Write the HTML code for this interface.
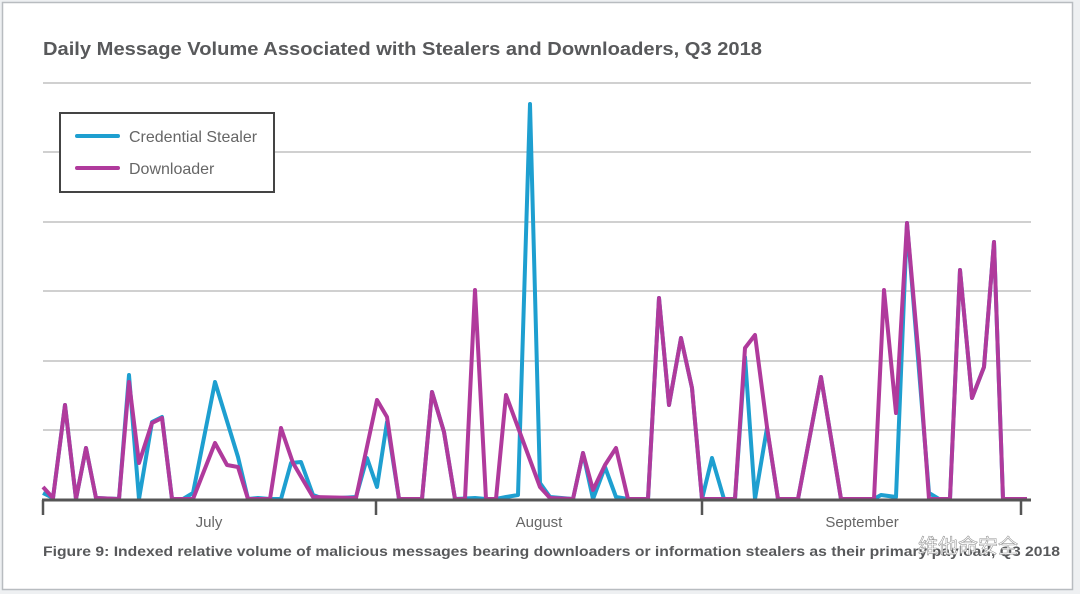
<!DOCTYPE html>
<html><head><meta charset="utf-8"><style>
html,body{margin:0;padding:0;background:#eef0f2;}
svg{display:block;}
</style></head><body>
<svg width="1080" height="594" xmlns="http://www.w3.org/2000/svg" font-family="Liberation Sans, Noto Sans CJK SC, sans-serif">
<rect x="2.5" y="2.5" width="1070" height="587" fill="#ffffff" stroke="#b8bcc0" stroke-width="1.5"/>
<text x="43" y="55" font-size="18" font-weight="bold" fill="#58595b" textLength="719" lengthAdjust="spacingAndGlyphs">Daily Message Volume Associated with Stealers and Downloaders, Q3 2018</text>
<g stroke="#b5b5b5" stroke-width="1.2">
<line x1="43" y1="83" x2="1031" y2="83"/>
<line x1="43" y1="152" x2="1031" y2="152"/>
<line x1="43" y1="222" x2="1031" y2="222"/>
<line x1="43" y1="291" x2="1031" y2="291"/>
<line x1="43" y1="361" x2="1031" y2="361"/>
<line x1="43" y1="430" x2="1031" y2="430"/>
</g>
<rect x="60" y="113" width="214" height="79" fill="#fff" stroke="#444" stroke-width="2"/>
<line x1="77" y1="136" x2="118" y2="136" stroke="#1e9fd0" stroke-width="4" stroke-linecap="round"/>
<line x1="77" y1="168" x2="118" y2="168" stroke="#b03a9c" stroke-width="4" stroke-linecap="round"/>
<text x="129" y="142" font-size="16" fill="#666">Credential Stealer</text>
<text x="129" y="174" font-size="16" fill="#666">Downloader</text>
<polyline fill="none" stroke="#1e9fd0" stroke-width="4" stroke-linejoin="round" points="43,493 53,498 65,405 76,499 86,448 96,498 119,499 129,375 139,499 152,422 162,417 172,499 183,499 193,493 215,382 238,457 248,499 258,498 270,499 281,499 291,463 301,462 313,495 324,499 356,497 367,458 377,487 387,422 399,499 422,499 432,392 444,432 455,499 475,498 486,499 496,499 506,497 518,495 530,104 540,483 550,497 573,499 583,453 593,499 605,467 616,497 628,499 648,499 659,298 669,405 681,338 692,388 702,499 712,458 724,499 735,499 745,357 755,499 767,428 778,499 798,499 821,377 833,450 841,499 874,499 881,495 896,497 907,223 929,493 939,499 950,499 960,270 972,398 984,367 994,242 1003,499 1027,499"/>
<polyline fill="none" stroke="#b03a9c" stroke-width="4" stroke-linejoin="round" points="43,487 53,498 65,405 76,499 86,448 96,498 119,499 129,382 139,463 152,423 162,418 172,499 193,499 215,443 227,465 238,467 248,499 270,499 281,428 293,463 313,497 356,498 377,400 387,417 399,499 422,499 432,392 444,432 455,499 465,499 475,290 486,499 496,499 506,395 540,487 550,498 573,499 583,453 593,490 605,465 616,448 628,499 648,499 659,298 669,405 681,338 692,388 702,499 735,499 745,348 755,335 767,427 778,499 798,499 821,377 833,450 841,499 874,499 884,290 896,413 907,223 919,360 929,499 950,499 960,270 972,398 984,367 994,242 1003,499 1027,499"/>
<line x1="42" y1="500" x2="1031" y2="500" stroke="#555" stroke-width="3"/>
<g stroke="#555" stroke-width="2.5">
<line x1="43" y1="500" x2="43" y2="515"/>
<line x1="376" y1="500" x2="376" y2="515"/>
<line x1="702" y1="500" x2="702" y2="515"/>
<line x1="1021" y1="500" x2="1021" y2="515"/>
</g>
<text x="209" y="527" font-size="15" fill="#666" text-anchor="middle">July</text>
<text x="539" y="527" font-size="15" fill="#666" text-anchor="middle">August</text>
<text x="862" y="527" font-size="15" fill="#666" text-anchor="middle">September</text>
<text x="43" y="556" font-size="13.5" font-weight="bold" fill="#58595b" textLength="1017" lengthAdjust="spacingAndGlyphs">Figure 9: Indexed relative volume of malicious messages bearing downloaders or information stealers as their primary payload, Q3 2018</text>
<text x="918" y="553" font-size="20" fill="#ffffff" stroke="#999" stroke-width="0.6">维他命安全</text>
</svg>
</body></html>
